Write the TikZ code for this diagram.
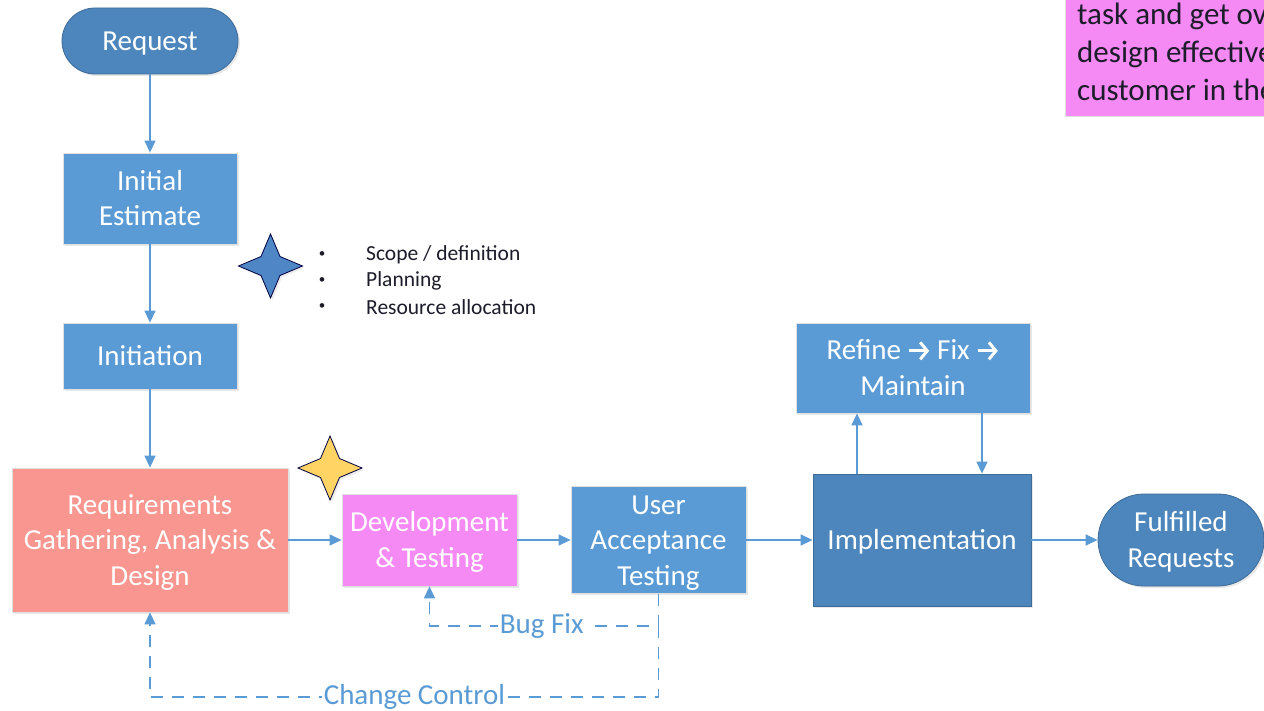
\documentclass[tikz,border=0pt]{standalone}
\usepackage{fontspec}
\setmainfont{Carlito}
\usetikzlibrary{arrows.meta,shadows}

\definecolor{officeblue}{HTML}{5B9BD5}
\definecolor{deepblue}{HTML}{4C86BD}
\definecolor{salmon}{HTML}{F8968F}
\definecolor{orchid}{HTML}{F68AF4}
\definecolor{starblue}{HTML}{4F86C6}
\definecolor{staryellow}{HTML}{FFD464}
\definecolor{linkblue}{HTML}{5B9BD5}
\definecolor{inkdark}{HTML}{1C1C2A}

\tikzset{
  x=1pt, y=-1pt,
  bigtext/.style={font=\fontsize{29}{35.5}\selectfont},
  flowbox/.style={rectangle, draw=black!12, line width=0.8pt, fill=officeblue,
    text=white, inner sep=0pt, bigtext,
    drop shadow={opacity=0.18, shadow xshift=2pt, shadow yshift=-2pt}},
  terminal/.style={flowbox, fill=deepblue, draw=deepblue!80!black},
  link/.style={draw=linkblue, line width=1.4pt,
    -{Triangle[length=12pt,width=11pt]}},
  feedback/.style={link, dash pattern=on 12pt off 9pt},
  flowlabel/.style={fill=white, text=linkblue, inner sep=2pt, bigtext},
  starline/.style={line width=0.8pt, draw=black!75!blue},
  bullettext/.style={anchor=west, inner sep=0pt, text=inkdark,
    font=\fontsize{21.5}{26}\selectfont},
  bulletdot/.style={inner sep=0pt, text=inkdark,
    font=\fontsize{13}{13}\selectfont},
  notetext/.style={anchor=base west, inner sep=0pt, text=inkdark,
    font=\fontsize{31}{38}\selectfont},
}

% centred lines of box text, set slightly low as in the office style
\newcommand\boxlines[1]{\raisebox{-2.5pt}[\height][\depth]{%
  \begin{tabular}{@{}c@{}}#1\end{tabular}}}

% heavy arrow used inside the maintenance box
\newcommand\stepto{\tikz[baseline=-9pt]\draw[white, line width=3pt,
  -{Straight Barb[length=7pt,width=17pt,line width=3pt]}] (0,0) -- (20,0);}

% four-pointed star: centre, outer radius, inner offset, fill colour
\newcommand\fourpointstar[4]{%
  \draw[starline, fill=#4,
        drop shadow={opacity=0.15, shadow xshift=2pt, shadow yshift=-2pt}]
    (#1) +(#2,0) -- +(#3,#3) -- +(0,#2) -- +(-#3,#3)
         -- +(-#2,0) -- +(-#3,-#3) -- +(0,-#2) -- +(#3,-#3) -- cycle;}

\begin{document}
\begin{tikzpicture}
\useasboundingbox (0,0) rectangle (1264,711);
\clip (0,0) rectangle (1264,711);

% note box at the upper right edge
\node[rectangle, fill=orchid, draw=black!12, line width=0.8pt,
      minimum width=230pt, minimum height=124pt, anchor=north west,
      inner sep=0pt] (note) at (1065,-8) {};
\node[notetext] (noteA) at (1077,25) {task and get over};
\node[notetext] (noteB) at (1077,63) {design effective};
\node[notetext] (noteC) at (1077,101) {customer in the};

% main flow
\node[terminal, rounded corners=33pt, minimum width=176pt, minimum height=66pt]
  (request) at (150,41) {\boxlines{Request}};
\node[flowbox, minimum width=174pt, minimum height=91pt]
  (initial) at (150,198.5) {\boxlines{Initial\\Estimate}};
\node[flowbox, minimum width=174pt, minimum height=66pt]
  (initiation) at (150,356) {\boxlines{Initiation}};
\node[flowbox, fill=salmon, minimum width=276pt, minimum height=144pt]
  (reqs) at (150,540) {\boxlines{Requirements\\Gathering, Analysis \&\\Design}};
\node[flowbox, fill=orchid, minimum width=175pt, minimum height=92pt]
  (dev) at (429.5,540) {\boxlines{Development\\\& Testing}};
\node[flowbox, minimum width=175pt, minimum height=103pt]
  (uat) at (658.5,540) {\boxlines{User\\Acceptance\\Testing}};
\node[terminal, minimum width=218pt, minimum height=132pt]
  (impl) at (922,540) {\boxlines{Implementation}};
\node[flowbox, minimum width=234pt, minimum height=90pt]
  (refine) at (913,368) {\boxlines{Refine \stepto\ Fix \stepto\\Maintain}};
\node[terminal, rounded corners=46pt, minimum width=166pt, minimum height=92pt]
  (done) at (1181,540) {\boxlines{Fulfilled\\Requests}};

% stars
\coordinate (bluestar) at (270.5,266);
\coordinate (goldstar) at (330,468);
\fourpointstar{bluestar}{32}{9.5}{starblue}
\fourpointstar{goldstar}{32}{9.5}{staryellow}

% scope notes next to the blue star
\node[bulletdot] (b1) at (322,255) {•};
\node[bulletdot] (b2) at (322,281) {•};
\node[bulletdot] (b3) at (322,307) {•};
\node[bullettext] (t1) at (366,255) {Scope / definition};
\node[bullettext] (t2) at (366,281) {Planning};
\node[bullettext] (t3) at (366,307) {Resource allocation};

% forward connectors
\draw[link] (request) -- (initial);
\draw[link] (initial) -- (initiation);
\draw[link] (initiation) -- (reqs);
\draw[link] (reqs) -- (dev);
\draw[link] (dev) -- (uat);
\draw[link] (uat) -- (impl);
\draw[link] (impl) -- (done);

% maintenance loop
\coordinate (upx) at (857,0);
\coordinate (downx) at (982,0);
\draw[link] (impl.north -| upx) -- (refine.south -| upx);
\draw[link] (refine.south -| downx) -- (impl.north -| downx);

% feedback loops
\coordinate (bugy) at (0,626);
\coordinate (ccy) at (0,697);
\draw[feedback] (uat.south) -- (uat.south |- bugy)
  -- node[flowlabel, pos=0.51] (buglabel) {Bug Fix} (dev.south |- bugy)
  -- (dev.south);
\draw[feedback] (uat.south |- bugy) -- (uat.south |- ccy)
  -- node[flowlabel, pos=0.48] (cclabel) {Change Control} (reqs.south |- ccy)
  -- (reqs.south);
\end{tikzpicture}
\end{document}
